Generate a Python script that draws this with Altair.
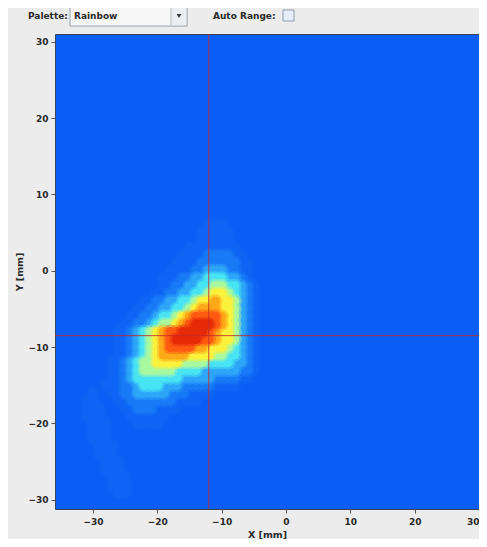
import altair as alt
import pandas as pd

# ---------------- data ----------------
# Intensity map, 1 mm cells.
# Row i has y = Y_TOP - i (mm); character j has x = X_FIRST + j (mm).
# Levels 0..9 of the "Rainbow" palette (0 = background blue).
X_FIRST = -31
Y_TOP = 6
ROWS = [
    "0000000000000000000111000000",  # y=6
    "0000000000000000001111100000",  # y=5
    "0000000000000000001111100000",  # y=4
    "0000000000000000111111110000",  # y=3
    "0000000000000001111222211000",  # y=2
    "0000000000000011112222221100",  # y=1
    "0000000000000111122333221100",  # y=0
    "0000000000001112233444332100",  # y=-1
    "0000000000001122334455443210",  # y=-2
    "0000000000011223344566543210",  # y=-3
    "0000000001122334456676653210",  # y=-4
    "0000000011223344567776653210",  # y=-5
    "0000000112234456788887653210",  # y=-6
    "0000001122345567899987653210",  # y=-7
    "0000011234567889999876653210",  # y=-8
    "0000011234567899998876653210",  # y=-9
    "0000011234567888877666543210",  # y=-10
    "0000011234567777666655443210",  # y=-11
    "0000112345566665555444433210",  # y=-12
    "0000112345555544443333332210",  # y=-13
    "0000112344444443333322221100",  # y=-14
    "0001112234443332222211110000",  # y=-15
    "0100112233333222111100000000",  # y=-16
    "1100011222222211110000000000",  # y=-17
    "1110001122211110000000000000",  # y=-18
    "1110000111111000000000000000",  # y=-19
    "0111000011110000000000000000",  # y=-20
    "0111000000000000000000000000",  # y=-21
    "0111000000000000000000000000",  # y=-22
    "0011100000000000000000000000",  # y=-23
    "0011100000000000000000000000",  # y=-24
    "0001110000000000000000000000",  # y=-25
    "0001110000000000000000000000",  # y=-26
    "0000111000000000000000000000",  # y=-27
    "0000111000000000000000000000",  # y=-28
    "0000011000000000000000000000",  # y=-29
    "0000000000000000000000000000",  # y=-30
]
LEVELS = [0, 1, 2, 3, 4, 5, 6, 7, 8, 9]
PALETTE = ["#0a5ef5", "#0e65f5", "#187af6", "#2ea6f8", "#48e4f4",
           "#a8f8a0", "#fbf23c", "#ffa818", "#ff5a12", "#e62a08"]
BG_BLUE = PALETTE[0]

CROSS_X = [-12.0]
CROSS_Y = [-8.5]

X_DOMAIN = [-35.9, 30.0]
Y_DOMAIN = [-31.2, 31.0]
TICKS = [-30, -20, -10, 0, 10, 20, 30]

# each cell is drawn as a soft outer disc followed by a solid core disc
records = []
for i, row in enumerate(ROWS):
    yv = Y_TOP - i
    for j, ch in enumerate(row):
        lv = int(ch)
        if lv > 0:
            records.append({"x": X_FIRST + j, "y": yv, "level": lv,
                            "pass": 0, "sz": 210, "op": 0.45})
            records.append({"x": X_FIRST + j, "y": yv, "level": lv,
                            "pass": 1, "sz": 95, "op": 1.0})
cells = pd.DataFrame(records).sort_values(["level", "pass"], kind="stable")

FONT = "DejaVu Sans"
TXT = "#2a2a2a"

xs = alt.Scale(domain=X_DOMAIN, nice=False, zero=False)
ys = alt.Scale(domain=Y_DOMAIN, nice=False, zero=False)
x_axis = alt.Axis(values=TICKS, tickSize=4, tickColor="#555", labelFont=FONT,
                  labelFontSize=9, labelFontWeight="bold", labelColor=TXT,
                  labelPadding=4, grid=False, domain=False, titleFont=FONT,
                  titleFontSize=9.5, titleFontWeight="bold", titleColor=TXT,
                  titleY=20)
y_axis = alt.Axis(values=TICKS, tickSize=4, tickColor="#555", labelFont=FONT,
                  labelFontSize=9, labelFontWeight="bold", labelColor=TXT,
                  labelPadding=3, labelFlush=False, grid=False, domain=False,
                  titleFont=FONT, titleFontSize=9.5, titleFontWeight="bold",
                  titleColor=TXT, titleX=-36, titleBaseline="middle")
cscale = alt.Scale(domain=LEVELS, range=PALETTE)

heat = alt.Chart(cells).mark_circle().encode(
    x=alt.X("x:Q", scale=xs, axis=x_axis, title="X [mm]"),
    y=alt.Y("y:Q", scale=ys, axis=y_axis, title="Y [mm]"),
    color=alt.Color("level:O", scale=cscale, legend=None),
    size=alt.Size("sz:Q", scale=None),
    opacity=alt.Opacity("op:Q", scale=None),
)

vline = alt.Chart(pd.DataFrame({"cx": CROSS_X})).mark_rule(
    color="#c42a2a", strokeWidth=1, opacity=0.85).encode(
    x=alt.X("cx:Q", scale=xs, axis=x_axis, title="X [mm]"))
hline = alt.Chart(pd.DataFrame({"cy": CROSS_Y})).mark_rule(
    color="#c42a2a", strokeWidth=1, opacity=0.85).encode(
    y=alt.Y("cy:Q", scale=ys, axis=y_axis, title="Y [mm]"))

# ---------------- toolbar (GUI decoration, pixel positions) ----------------
one = pd.DataFrame({"t": ["Palette:"]})
combo = alt.Chart(one).mark_rect(fill="#f7f7f7", stroke="#9aa0a8", strokeWidth=1).encode(
    x=alt.value(15), x2=alt.value(132), y=alt.value(-29), y2=alt.value(-8))
button = alt.Chart(one).mark_rect(fill="#eceef1", stroke="#b4b8be", strokeWidth=1).encode(
    x=alt.value(116), x2=alt.value(132), y=alt.value(-29), y2=alt.value(-8))
arrow = alt.Chart(one).mark_point(shape="triangle-down", filled=True, size=22,
                                  color="#333", opacity=1).encode(
    x=alt.value(124), y=alt.value(-18))
check = alt.Chart(one).mark_rect(fill="#e8eef7", stroke="#8c9bb0", strokeWidth=1).encode(
    x=alt.value(228), x2=alt.value(239), y=alt.value(-24), y2=alt.value(-13))


def label(text, xpos):
    return alt.Chart(pd.DataFrame({"t": [text]})).mark_text(
        align="left", baseline="alphabetic", font=FONT, fontSize=9,
        fontWeight="bold", color=TXT).encode(
        text="t:N", x=alt.value(xpos), y=alt.value(-15))


chart = alt.layer(
    heat, vline, hline, combo, button, arrow, check,
    label("Palette:", -27), label("Rainbow", 19), label("Auto Range:", 158),
).properties(
    width=424, height=475,
    autosize=alt.AutoSizeParams(type="none"),
    padding={"left": 47, "top": 26, "right": 0, "bottom": 30},
    background="#ececec",
).configure_view(fill=BG_BLUE, stroke="#3b4458", strokeWidth=1)

chart.save("out.html", embed_options={"renderer": "svg", "actions": False})
